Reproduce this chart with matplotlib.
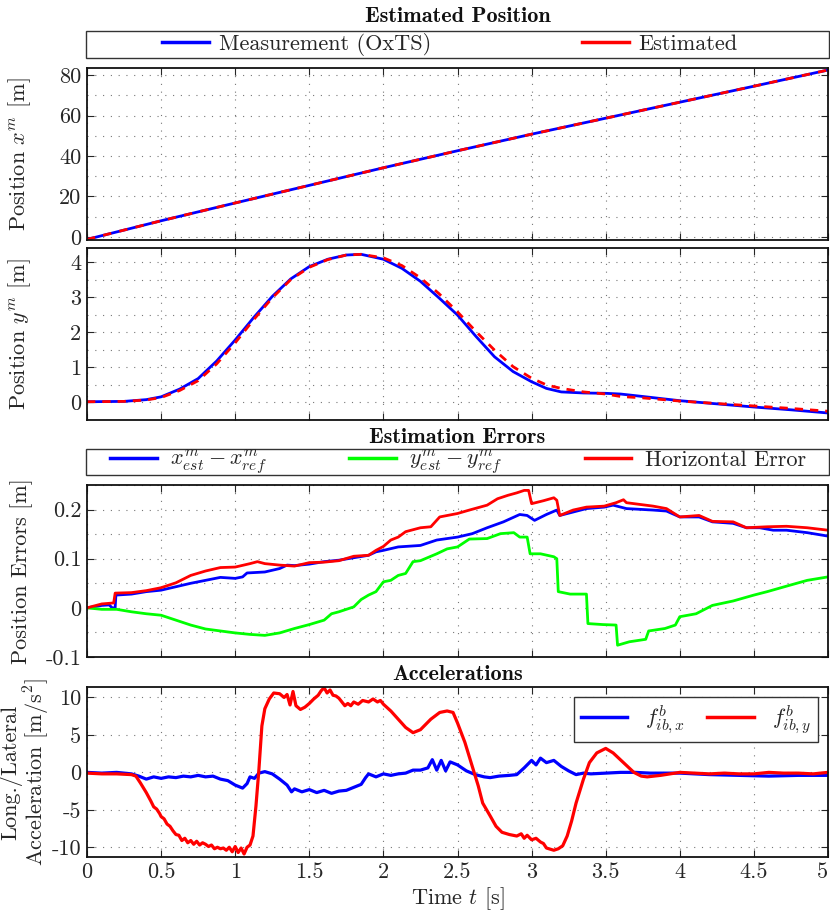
import matplotlib
matplotlib.use('Agg')
import matplotlib.pyplot as plt
from matplotlib.patches import Rectangle
from matplotlib.ticker import MultipleLocator, FuncFormatter

plt.rcParams['font.family'] = 'serif'
plt.rcParams['font.serif'] = ['cmr10']
plt.rcParams['mathtext.fontset'] = 'cm'
plt.rcParams['axes.unicode_minus'] = False
plt.rcParams['axes.formatter.use_mathtext'] = True

TXT = '#262626'
FS = 16

# --- position in map frame ---
t_x = [0, 0.5, 1.0, 1.5, 2.0, 2.5, 3.0, 3.5, 4.0, 4.5, 5.0]
x_meas = [-1.2, 8.0, 16.8, 25.5, 34.2, 42.6, 50.8, 58.7, 66.6, 74.5, 82.5]
x_est = [-1.2, 8.0, 16.8, 25.5, 34.2, 42.6, 50.8, 58.7, 66.6, 74.5, 82.5]

t_y = [0, 0.25, 0.4, 0.5, 0.625, 0.75, 0.875, 1.0, 1.125, 1.25, 1.375, 1.5,
       1.625, 1.75, 1.85, 2.0, 2.125, 2.25, 2.375, 2.5, 2.625, 2.75, 2.875,
       3.0, 3.1, 3.2, 3.35, 3.5, 3.6, 3.75, 4.0, 4.25, 4.5, 4.75, 5.0]
y_meas = [0.02, 0.03, 0.08, 0.16, 0.38, 0.68, 1.18, 1.78, 2.42, 3.02, 3.52, 3.87,
          4.08, 4.20, 4.22, 4.08, 3.82, 3.45, 2.98, 2.49, 1.88, 1.30, 0.88,
          0.59, 0.40, 0.30, 0.27, 0.26, 0.24, 0.17, 0.05, -0.04, -0.13, -0.21, -0.30]
y_est = [0.02, 0.03, 0.07, 0.14, 0.34, 0.62, 1.10, 1.70, 2.36, 2.98, 3.50, 3.85,
         4.07, 4.20, 4.22, 4.12, 3.90, 3.55, 3.10, 2.58, 2.02, 1.49, 1.02,
         0.69, 0.50, 0.40, 0.30, 0.24, 0.17, 0.13, 0.04, -0.03, -0.10, -0.17, -0.25]

# --- estimation errors ---
t_ex = [0, 0.1, 0.15, 0.17, 0.19, 0.195, 0.3, 0.4, 0.5, 0.6, 0.7, 0.8, 0.9, 1.0,
        1.05, 1.08, 1.2, 1.3, 1.35, 1.4, 1.5, 1.6, 1.7, 1.8, 1.9, 1.95, 2.0, 2.1,
        2.25, 2.36, 2.5, 2.6, 2.7, 2.81, 2.92, 2.97, 3.02, 3.1, 3.17, 3.19, 3.28,
        3.37, 3.49, 3.55, 3.64, 3.82, 3.91, 4.0, 4.13, 4.22, 4.36, 4.45, 4.54,
        4.63, 4.72, 4.86, 5.0]
err_x = [0, 0.005, 0.006, 0.0, 0.0, 0.026, 0.028, 0.033, 0.036, 0.043, 0.05, 0.056,
         0.062, 0.06, 0.063, 0.071, 0.073, 0.08, 0.087, 0.086, 0.089, 0.094, 0.097,
         0.102, 0.107, 0.114, 0.117, 0.124, 0.127, 0.138, 0.144, 0.151, 0.163,
         0.175, 0.19, 0.188, 0.178, 0.19, 0.199, 0.188, 0.195, 0.202, 0.205,
         0.209, 0.202, 0.199, 0.197, 0.185, 0.185, 0.175, 0.172, 0.163, 0.163,
         0.158, 0.158, 0.153, 0.146]

t_ey = [0, 0.1, 0.2, 0.3, 0.4, 0.5, 0.6, 0.7, 0.8, 0.9, 1.0, 1.1, 1.2, 1.3, 1.4,
        1.5, 1.6, 1.65, 1.7, 1.8, 1.85, 1.9, 1.95, 2.0, 2.05, 2.1, 2.15, 2.2,
        2.25, 2.36, 2.43, 2.5, 2.58, 2.7, 2.79, 2.88, 2.92, 2.97, 2.99, 3.06,
        3.15, 3.17, 3.18, 3.26, 3.37, 3.38, 3.48, 3.57, 3.58, 3.66, 3.77, 3.79,
        3.9, 3.97, 4.0, 4.11, 4.22, 4.36, 4.5, 4.59, 4.73, 4.86, 5.0]
err_y = [0, -0.003, -0.003, -0.008, -0.012, -0.015, -0.025, -0.035, -0.043,
         -0.047, -0.051, -0.054, -0.056, -0.051, -0.042, -0.034, -0.025, -0.012,
         -0.008, 0.002, 0.017, 0.026, 0.033, 0.053, 0.056, 0.066, 0.07, 0.094,
         0.096, 0.11, 0.12, 0.124, 0.14, 0.141, 0.151, 0.153, 0.144, 0.144, 0.11,
         0.11, 0.104, 0.1, 0.033, 0.028, 0.028, -0.032, -0.034, -0.035, -0.076,
         -0.069, -0.064, -0.047, -0.042, -0.035, -0.018, -0.012, 0.005, 0.014,
         0.026, 0.033, 0.045, 0.056, 0.063]

t_eh = [0, 0.1, 0.18, 0.19, 0.3, 0.4, 0.5, 0.6, 0.7, 0.8, 0.9, 1.0, 1.1, 1.15,
        1.2, 1.3, 1.4, 1.5, 1.6, 1.7, 1.8, 1.9, 1.95, 2.0, 2.05, 2.1, 2.15, 2.25,
        2.32, 2.38, 2.5, 2.58, 2.7, 2.77, 2.84, 2.9, 2.95, 2.98, 3.0, 3.08, 3.15,
        3.17, 3.19, 3.28, 3.37, 3.49, 3.57, 3.62, 3.64, 3.82, 3.91, 4.0, 4.13,
        4.22, 4.36, 4.45, 4.59, 4.72, 4.86, 5.0]
err_h = [0, 0.008, 0.01, 0.03, 0.031, 0.035, 0.041, 0.051, 0.066, 0.075, 0.082,
         0.083, 0.09, 0.094, 0.09, 0.087, 0.085, 0.092, 0.093, 0.096, 0.105,
         0.107, 0.117, 0.125, 0.138, 0.144, 0.155, 0.163, 0.165, 0.185, 0.192,
         0.199, 0.209, 0.222, 0.229, 0.234, 0.239, 0.239, 0.212, 0.218, 0.224,
         0.219, 0.188, 0.199, 0.205, 0.207, 0.214, 0.22, 0.214, 0.207, 0.202,
         0.185, 0.188, 0.176, 0.175, 0.163, 0.165, 0.166, 0.163, 0.158]

# --- specific force in body frame ---
t_fx = [0, 0.1, 0.2, 0.3, 0.35, 0.4, 0.45, 0.5, 0.55, 0.6, 0.65, 0.7, 0.75, 0.8,
        0.85, 0.9, 0.95, 1.0, 1.05, 1.08, 1.1, 1.13, 1.16, 1.2, 1.25, 1.3, 1.35,
        1.38, 1.4, 1.45, 1.5, 1.55, 1.6, 1.65, 1.7, 1.75, 1.8, 1.85, 1.88, 1.9,
        1.95, 2.0, 2.05, 2.1, 2.15, 2.2, 2.25, 2.3, 2.33, 2.36, 2.39, 2.42, 2.45,
        2.5, 2.56, 2.62, 2.68, 2.72, 2.78, 2.85, 2.9, 2.95, 3.0, 3.03, 3.06, 3.1,
        3.15, 3.2, 3.25, 3.3, 3.35, 3.4, 3.5, 3.6, 3.7, 3.8, 4.0, 4.2, 4.4, 4.6,
        4.8, 5.0]
f_x = [0.0, -0.1, 0.0, -0.2, -0.5, -0.9, -0.6, -0.8, -0.6, -0.7, -0.5, -0.6,
       -0.4, -0.6, -0.5, -0.9, -1.1, -1.7, -2.1, -1.5, -0.6, -0.8, -0.1, 0.1,
       -0.2, -0.9, -1.7, -2.6, -2.2, -2.6, -2.3, -2.7, -2.4, -2.8, -2.5, -2.4,
       -2.0, -1.6, -0.7, -0.2, -0.6, -0.2, -0.4, -0.2, -0.1, 0.3, 0.3, 0.6, 1.7,
       0.3, 1.6, 0.2, 1.4, 1.0, 0.2, -0.3, -0.6, -0.7, -0.5, -0.4, -0.3, 0.6,
       1.6, 1.0, 1.9, 1.3, 1.6, 0.8, 0.2, -0.3, -0.1, -0.2, -0.1, 0.0, 0.0,
       -0.1, -0.1, -0.3, -0.4, -0.5, -0.4, -0.4]

t_fy = [0, 0.1, 0.2, 0.3, 0.33, 0.36, 0.4, 0.43, 0.45, 0.47, 0.49, 0.5, 0.52,
        0.54, 0.56, 0.58, 0.6, 0.62, 0.64, 0.66, 0.68, 0.7, 0.72, 0.74, 0.76,
        0.78, 0.8, 0.82, 0.84, 0.86, 0.88, 0.9, 0.92, 0.94, 0.96, 0.98, 1.0,
        1.02, 1.04, 1.06, 1.08, 1.1, 1.12, 1.14, 1.16, 1.18, 1.2, 1.23, 1.26,
        1.3, 1.33, 1.35, 1.37, 1.39, 1.41, 1.44, 1.47, 1.5, 1.53, 1.56, 1.58,
        1.6, 1.62, 1.64, 1.66, 1.68, 1.7, 1.72, 1.74, 1.76, 1.78, 1.8, 1.83,
        1.86, 1.9, 1.93, 1.96, 1.98, 2.0, 2.05, 2.1, 2.15, 2.2, 2.25, 2.32,
        2.38, 2.43, 2.47, 2.5, 2.55, 2.6, 2.64, 2.67, 2.72, 2.76, 2.8, 2.85,
        2.9, 2.93, 2.95, 2.97, 3.0, 3.03, 3.06, 3.08, 3.1, 3.15, 3.18, 3.21,
        3.24, 3.27, 3.3, 3.35, 3.39, 3.44, 3.5, 3.55, 3.62, 3.69, 3.74, 3.78,
        3.87, 4.0, 4.1, 4.2, 4.3, 4.4, 4.5, 4.6, 4.7, 4.8, 4.9, 5.0]
f_y = [-0.1, -0.2, -0.2, -0.3, -0.5, -1.4, -2.7, -3.8, -4.6, -4.9, -5.5, -5.9,
       -6.2, -6.9, -7.2, -7.8, -8.3, -8.4, -9.1, -8.8, -9.4, -9.1, -9.6, -9.2,
       -9.7, -9.4, -9.6, -9.9, -9.7, -10.2, -10.0, -10.2, -10.1, -10.4, -10.0,
       -10.6, -9.9, -10.7, -10.1, -10.9, -10.0, -9.7, -8.5, -4.5, 0.4, 6.2, 8.5,
       9.8, 10.6, 10.5, 10.0, 10.4, 9.0, 10.8, 8.9, 8.4, 8.7, 9.2, 9.8, 10.3,
       10.9, 11.3, 10.6, 11.0, 10.3, 10.2, 9.9, 9.4, 8.9, 9.2, 8.9, 9.4, 9.1,
       9.6, 9.4, 9.8, 9.4, 9.6, 9.1, 8.2, 7.1, 6.0, 5.3, 5.7, 7.1, 8.0, 8.2,
       8.0, 6.6, 4.0, 0.8, -1.8, -4.1, -5.8, -7.2, -8.0, -8.3, -8.5, -8.2, -8.8,
       -8.4, -9.0, -8.8, -9.3, -9.5, -10.1, -10.4, -10.2, -9.8, -8.5, -6.5,
       -4.1, -0.9, 1.3, 2.6, 3.2, 2.6, 1.3, 0.0, -0.5, -0.6, -0.4, 0.0, -0.1,
       -0.2, -0.1, -0.2, -0.2, 0.0, -0.1, -0.1, -0.2, 0.0]

W, H = 830, 910


def box(top, bottom, left=87, right=828):
    return [left / W, 1 - bottom / H, (right - left) / W, (bottom - top) / H]


def fmt(v, pos):
    return '%g' % round(v, 6)


def style(ax, major, minor, ylim, xlabels=False):
    ax.set_xlim(0, 5)
    ax.set_ylim(*ylim)
    ax.xaxis.set_major_locator(MultipleLocator(0.5))
    ax.yaxis.set_major_locator(MultipleLocator(major))
    if minor:
        ax.yaxis.set_minor_locator(MultipleLocator(minor))
    ax.xaxis.set_major_formatter(FuncFormatter(fmt))
    ax.yaxis.set_major_formatter(FuncFormatter(fmt))
    ax.tick_params(which='major', direction='in', top=True, right=True,
                   length=5, width=0.8, labelsize=FS, labelcolor=TXT,
                   color=TXT, pad=4)
    ax.tick_params(which='minor', length=0)
    if not xlabels:
        ax.tick_params(labelbottom=False)
    ax.grid(True, which='both', linestyle=(0, (1, 6)), color='#777777',
            linewidth=0.8)
    for s in ax.spines.values():
        s.set_linewidth(1.3)
        s.set_color('#111111')
    ax.set_axisbelow(True)


def legend_strip(top, bottom, handles, labels, xc, ncol, colsp, pad):
    # framed strip spanning the axes width, entries centred inside it
    fig.add_artist(Rectangle((86 / W, 1 - bottom / H), 742.5 / W,
                             (bottom - top) / H, transform=fig.transFigure,
                             facecolor='white', edgecolor='#333333', lw=1.0))
    leg = fig.legend(handles, labels, loc='center',
                     bbox_to_anchor=(xc / W, 1 - (top + bottom) / 2 / H),
                     ncol=ncol, fontsize=FS, frameon=False, handlelength=2.1,
                     handletextpad=pad, columnspacing=colsp, borderpad=0)
    for h in leg.get_lines():
        h.set_linestyle('-')
        h.set_linewidth(2.5)
    for txt in leg.get_texts():
        txt.set_color(TXT)
    return leg


fig = plt.figure(figsize=(8.3, 9.1), dpi=100)

# x position
ax1 = fig.add_axes(box(68, 240))
l_meas, = ax1.plot(t_x, x_meas, color='blue', lw=2.0)
l_est, = ax1.plot(t_x, x_est, color='red', lw=2.0, dashes=(3, 3))
style(ax1, 20, 10, (-1.5, 83.5))
ax1.set_ylabel('Position $x^m$ [m]', fontsize=FS, color=TXT)
ax1.yaxis.set_label_coords(-0.073, 0.5)
legend_strip(31, 58, [l_meas, l_est], ['Measurement (OxTS)', 'Estimated'],
             450, 2, 6.8, 0.45)

# y position
ax2 = fig.add_axes(box(248, 420))
ax2.plot(t_y, y_meas, color='blue', lw=2.0)
ax2.plot(t_y, y_est, color='red', lw=2.0, dashes=(3, 2.5))
style(ax2, 1, 0.5, (-0.5, 4.4))
ax2.set_ylabel('Position $y^m$ [m]', fontsize=FS, color=TXT)
ax2.yaxis.set_label_coords(-0.073, 0.5)

# estimation errors
ax3 = fig.add_axes(box(485, 657))
l_ex, = ax3.plot(t_ex, err_x, color='blue', lw=2.0)
l_ey, = ax3.plot(t_ey, err_y, color='lime', lw=2.0)
l_eh, = ax3.plot(t_eh, err_h, color='red', lw=2.0)
style(ax3, 0.1, 0.05, (-0.1, 0.25))
ax3.set_ylabel('Position Errors [m]', fontsize=FS, color=TXT)
ax3.yaxis.set_label_coords(-0.073, 0.5)
legend_strip(449, 475, [l_ex, l_ey, l_eh],
             [r'$x^m_{est} - x^m_{ref}$', r'$y^m_{est} - y^m_{ref}$',
              'Horizontal Error'],
             458, 3, 3.7, 0.6)

# accelerations
ax4 = fig.add_axes(box(687, 857))
ax4.plot(t_fx, f_x, color='blue', lw=2.3, label=r'$f^b_{ib,x}$')
ax4.plot(t_fy, f_y, color='red', lw=2.3, label=r'$f^b_{ib,y}$')
style(ax4, 5, None, (-11.3, 11.4), xlabels=True)
ax4.set_ylabel('Long./Lateral\nAcceleration [m/s$^2$]', fontsize=FS,
               color=TXT, linespacing=1.0)
ax4.yaxis.set_label_coords(-0.047, 0.5)
ax4.set_xlabel('Time $t$ [s]', fontsize=FS, color=TXT)
ax4.xaxis.set_label_coords(0.5, -0.165)
leg4 = ax4.legend(loc='upper right', ncol=2, fontsize=FS, fancybox=False,
                  framealpha=1, borderpad=0.3, handlelength=2.1,
                  borderaxespad=0.45, handletextpad=0.8, columnspacing=1.0)
for h in leg4.get_lines():
    h.set_linewidth(2.5)
leg4.get_frame().set_edgecolor('#333333')
leg4.get_frame().set_linewidth(1.0)
for txt in leg4.get_texts():
    txt.set_color(TXT)

# keep the last time label inside the figure
fig.canvas.draw()
for lab in ax4.get_xticklabels():
    if lab.get_text() == '5':
        lab.set_horizontalalignment('right')
        lab.set_x(5.04)

for ypx, title in [(17, 'Estimated Position'), (437, 'Estimation Errors'),
                   (674, 'Accelerations')]:
    fig.text(457.5 / W, 1 - ypx / H, title, ha='center', va='center',
             fontsize=FS, fontfamily='cmb10', color='#111111')

fig.savefig('out.png', dpi=100)
